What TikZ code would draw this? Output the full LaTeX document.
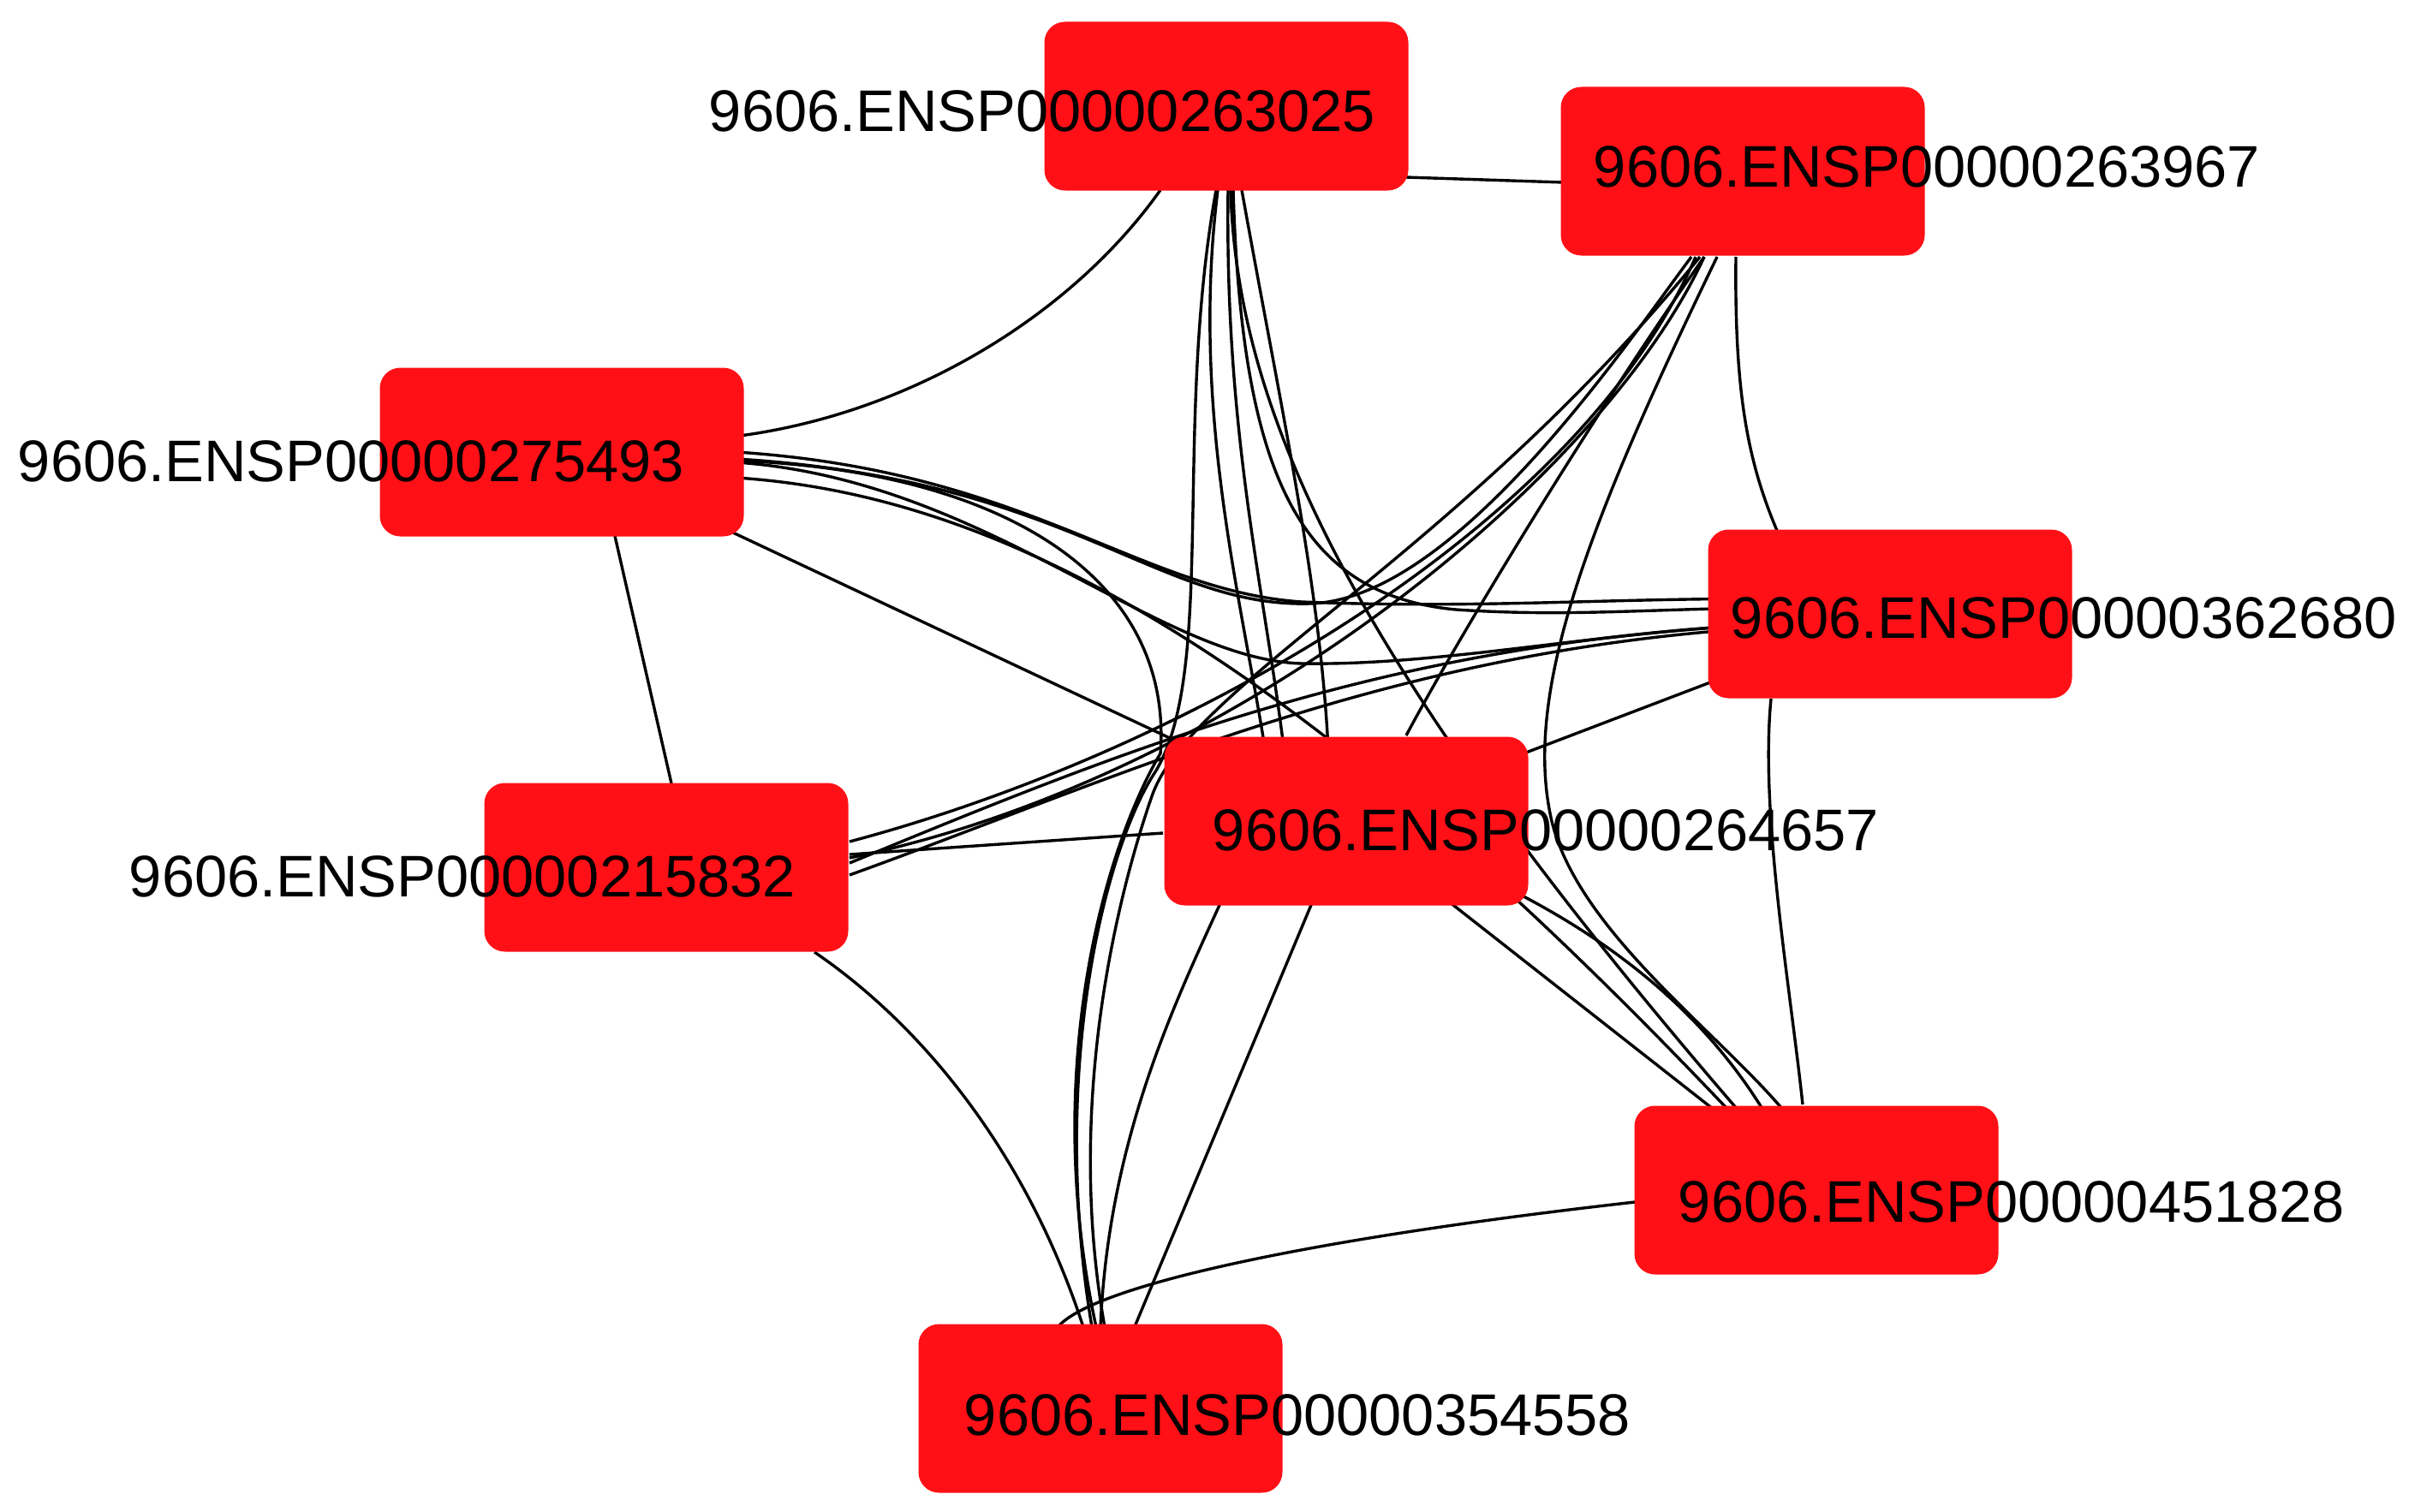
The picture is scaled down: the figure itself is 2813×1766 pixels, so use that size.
\documentclass[tikz,border=0pt]{standalone}
\usepackage{fontspec}
\setmainfont{Liberation Sans}
\usetikzlibrary{calc}
\pgfdeclarelayer{bg}
\pgfsetlayers{bg,main}
\definecolor{nodered}{RGB}{255,16,22}
\tikzset{
  prot/.style={fill=nodered, draw=none, rounded corners=24pt, minimum width=425pt, minimum height=197pt, inner sep=0pt},
  lab/.style={inner sep=0pt, text height=49pt, text depth=0pt, font=\fontsize{68.6}{80}\selectfont},
  edge/.style={draw=black, line width=3.4pt},
}
\begin{document}
\begin{tikzpicture}[x=1pt, y=-1pt]
\useasboundingbox (0,0) rectangle (2813,1766);
% nodes
\node[prot] (A) at (1432,124) {};
\node[prot] (B) at (2035,200) {};
\node[prot] (C) at (656,528) {};
\node[prot] (D) at (2207,717) {};
\node[prot] (E) at (778,1013) {};
\node[prot] (F) at (1572,959) {};
\node[prot] (G) at (2121,1390) {};
\node[prot] (H) at (1285,1645) {};
% labels
\node[lab] (Al) at (1217,129) {9606.ENSP00000263025};
\node[lab] (Bl) at (2250,194) {9606.ENSP00000263967};
\node[lab] (Cl) at (410,538) {9606.ENSP00000275493};
\node[lab] (Dl) at (2410,721) {9606.ENSP00000362680};
\node[lab] (El) at (540,1023) {9606.ENSP00000215832};
\node[lab] (Fl) at (1805,969) {9606.ENSP00000264657};
\node[lab] (Gl) at (2349,1403) {9606.ENSP00000451828};
\node[lab] (Hl) at (1515,1652) {9606.ENSP00000354558};
% edges
\begin{pgfonlayer}{bg}
\begin{scope}[edge]
% A-B
\draw ($(A.center)+(210,83)$) -- ($(B.center)+(-210,13)$);
% A-C
\draw ($(C.center)+(200,-18)$) .. controls (1060,485) and (1250,370) .. ($(A.center)+(-77,98)$);
% A-H
\draw ($(A.center)+(-12,98)$) .. controls (1370,500) and (1420,780) .. (1350,900) .. controls (1290,990) and (1225,1250) .. ($(H.center)+(-10,-95)$);
\draw ($(A.center)+(-10,98)$) .. controls (1390,480) and (1450,700) .. (1478,880) .. controls (1490,1000) and (1300,1200) .. ($(H.center)+(0,-95)$);
% A-F
\draw ($(A.center)+(18,98)$) .. controls (1500,500) and (1545,700) .. ($(F.center)+(-20,-60)$);
\draw ($(A.center)+(2,98)$) .. controls (1430,520) and (1480,700) .. ($(F.center)+(-70,-60)$);
% A-G
\draw ($(A.center)+(5,98)$) .. controls (1445,500) and (1600,800) .. ($(G.center)+(-80,-80)$);
% A-D
\draw ($(A.center)+(8,98)$) .. controls (1450,560) and (1520,695) .. (1700,712) .. controls (1850,722) and (1950,708) .. ($(D.center)+(-80,-7)$);
% C-D
\draw ($(C.center)+(204,0)$) .. controls (1200,550) and (1330,690) .. (1520,703) .. controls (1750,712) and (1900,696) .. ($(D.center)+(-80,-17)$);
\draw ($(C.center)+(204,12)$) .. controls (1150,560) and (1350,770) .. (1520,775) .. controls (1700,778) and (1900,730) .. ($(D.center)+(-80,10)$);
% C-B
\draw ($(C.center)+(204,8)$) .. controls (1250,560) and (1350,710) .. (1530,705) .. controls (1700,700) and (1900,400) .. ($(B.center)+(-60,100)$);
% C-H
\draw ($(C.center)+(204,10)$) .. controls (1180,550) and (1370,680) .. (1355,880) .. controls (1290,990) and (1215,1250) .. ($(H.center)+(-5,-95)$);
% C-G
\draw ($(C.center)+(204,30)$) .. controls (1200,580) and (1550,800) .. ($(G.center)+(-90,-80)$);
% C-F
\draw (C.center) -- (F.center);
% C-E
\draw ($(C.center)+(62,98)$) -- ($(E.center)+(6,-98)$);
% E-F
\draw ($(E.center)+(214,-15)$) -- ($(F.center)+(-214,14)$);
% E-H
\draw ($(E.center)+(173,99)$) .. controls (1080,1200) and (1200,1350) .. ($(H.center)+(-20,-95)$);
% E-B
\draw ($(E.center)+(214,-30)$) .. controls (1380,880) and (1840,620) .. ($(B.center)+(-55,100)$);
\draw ($(E.center)+(214,-11)$) .. controls (1440,910) and (1870,560) .. ($(B.center)+(-45,100)$);
% E-D
\draw ($(E.center)+(214,-5)$) .. controls (1350,860) and (1650,740) .. ($(D.center)+(-80,10)$);
\draw ($(E.center)+(214,9)$) .. controls (1330,900) and (1650,745) .. ($(D.center)+(-80,13)$);
% B-D
\draw ($(B.center)+(-8,100)$) .. controls (2025,480) and (2045,560) .. ($(D.center)+(-115,-60)$);
% B-F
\draw ($(B.center)+(-45,100)$) .. controls (1850,500) and (1700,750) .. ($(F.center)+(70,-100)$);
% B-G
\draw ($(B.center)+(-30,100)$) .. controls (1860,600) and (1780,800) .. (1810,950) .. controls (1835,1080) and (2000,1200) .. ($(G.center)+(-40,-95)$);
% B-H
\draw ($(B.center)+(-50,100)$) .. controls (1700,650) and (1390,800) .. (1345,930) .. controls (1300,1060) and (1245,1300) .. ($(H.center)+(5,-95)$);
% D-F
\draw (D.center) -- (F.center);
% D-G
\draw ($(D.center)+(-139,99)$) .. controls (2055,950) and (2090,1150) .. ($(G.center)+(-16,-100)$);
% F-G
\draw (F.center) -- (G.center);
\draw ($(F.center)+(150,60)$) .. controls (1900,1100) and (2000,1200) .. ($(G.center)+(-60,-90)$);
% F-H
\draw (F.center) -- (H.center);
% G-H
\draw ($(G.center)+(-212,14)$) .. controls (1500,1450) and (1240,1510) .. ($(H.center)+(-55,-85)$);
\end{scope}
\end{pgfonlayer}
\end{tikzpicture}
\end{document}
